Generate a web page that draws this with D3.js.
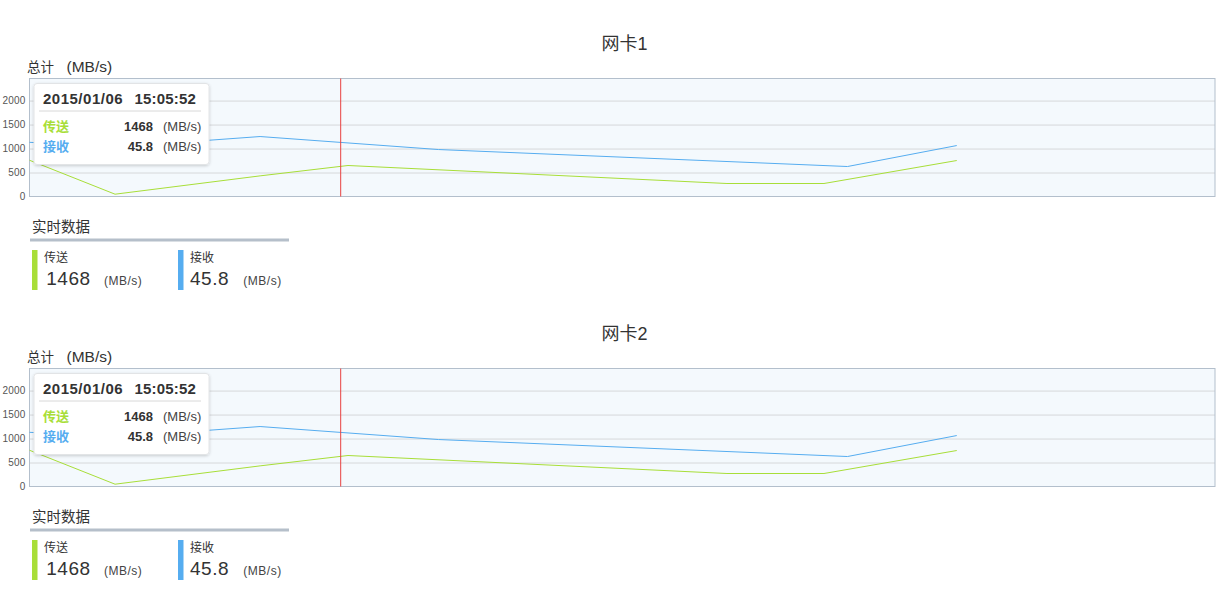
<!DOCTYPE html>
<html>
<head>
<meta charset="utf-8">
<script src="https://cdn.jsdelivr.net/npm/d3@7/dist/d3.min.js"></script>
<style>
  html, body { margin: 0; padding: 0; background: #fff; }
  svg text { font-family: "Liberation Sans", "Noto Sans CJK SC", sans-serif; }
</style>
</head>
<body>
<svg id="chart" width="1218" height="600"></svg>
<script>
// ---- data ----
const panelTitles = ["网卡1", "网卡2"];
const seriesNames = ["传送", "接收"];
const unitLabel = "(MB/s)";
const axisTitleMain = "总计";
const axisTitleUnit = "(MB/s)";
const realtimeTitle = "实时数据";
const yTicks = [0, 500, 1000, 1500, 2000];
const yMax = 2460;
const xMax = 60; // minutes shown on the time axis
const sendTimes = [0, 4.33, 11.67, 16.12, 35.3, 40.21, 46.93];
const sendValues = [756, 48, 430, 646, 271, 271, 750];
const recvTimes = [0, 4.33, 11.67, 20.7, 41.4, 46.93];
const recvValues = [1130, 1030, 1250, 979, 625, 1062];
const cursorTime = 15.75;
const tooltipDate = "2015/01/06";
const tooltipClock = "15:05:52";
const currentValues = ["1468", "45.8"];

const colors = ["#a8de38", "#56adf0"];

const svg = d3.select("#chart");
const defs = svg.append("defs");
const f = defs.append("filter").attr("id", "shadow").attr("x", "-10%").attr("y", "-10%").attr("width", "120%").attr("height", "130%");
f.append("feDropShadow").attr("dx", 0).attr("dy", 1).attr("stdDeviation", 1.5).attr("flood-color", "#000").attr("flood-opacity", 0.18);

const plot = { left: 29.5, right: 1215, top: 78.5, bottom: 196.5 };

function drawPanel(offsetY, title) {
  const g = svg.append("g").attr("transform", `translate(0,${offsetY})`);

  g.append("text").attr("x", 624.5).attr("y", 50).attr("text-anchor", "middle")
    .attr("font-size", 18).attr("fill", "#333").text(title);

  const at = g.append("text").attr("x", 27).attr("y", 72).attr("fill", "#333");
  at.append("tspan").attr("font-size", 13.5).text(axisTitleMain);
  at.append("tspan").attr("x", 66.5).attr("font-size", 15.5).text(axisTitleUnit);

  const x = d3.scaleLinear().domain([0, xMax]).range([plot.left, plot.right]);
  const y = d3.scaleLinear().domain([0, yMax]).range([plot.bottom, plot.top]);

  g.append("rect").attr("x", plot.left).attr("y", plot.top)
    .attr("width", plot.right - plot.left).attr("height", plot.bottom - plot.top)
    .attr("fill", "#f4f9fd").attr("stroke", "none");

  // grid lines
  const yAxis = d3.axisLeft(y).tickValues(yTicks).tickFormat(d3.format("d"))
    .tickSize(-(plot.right - plot.left)).tickPadding(4);
  const ax = g.append("g").attr("transform", `translate(${plot.left},0)`).call(yAxis);
  ax.select(".domain").remove();
  ax.selectAll(".tick line").attr("stroke", d => d === 0 ? "none" : "#d6d8da").attr("stroke-width", 1);
  ax.selectAll(".tick text").attr("font-size", 10).attr("fill", "#555").attr("letter-spacing", 0.2)
    .attr("font-family", "'Liberation Sans', sans-serif");

  g.append("rect").attr("x", plot.left).attr("y", plot.top)
    .attr("width", plot.right - plot.left).attr("height", plot.bottom - plot.top)
    .attr("fill", "none").attr("stroke", "#b3bfcc").attr("stroke-width", 1);

  const line = d3.line().x(d => x(d[0])).y(d => y(d[1]));
  const sendData = sendTimes.map((t, i) => [t, sendValues[i]]);
  const recvData = recvTimes.map((t, i) => [t, recvValues[i]]);
  g.append("path").datum(recvData).attr("d", line).attr("fill", "none").attr("stroke", colors[1]).attr("stroke-width", 1);
  g.append("path").datum(sendData).attr("d", line).attr("fill", "none").attr("stroke", colors[0]).attr("stroke-width", 1);

  g.append("line").attr("x1", x(cursorTime)).attr("x2", x(cursorTime))
    .attr("y1", plot.top).attr("y2", plot.bottom).attr("stroke", "#e8413f").attr("stroke-width", 1);

  // tooltip
  const tt = g.append("g").attr("transform", "translate(34,83.5)");
  tt.append("rect").attr("width", 175).attr("height", 81).attr("rx", 3)
    .attr("fill", "#fff").attr("stroke", "#e2e4e6").attr("filter", "url(#shadow)");
  tt.append("text").attr("x", 9).attr("y", 20.5).attr("font-size", 15).attr("font-weight", "bold")
    .attr("letter-spacing", 0.5).attr("fill", "#333").text(tooltipDate);
  tt.append("text").attr("x", 100.5).attr("y", 20.5).attr("font-size", 15).attr("font-weight", "bold")
    .attr("letter-spacing", 0.2).attr("fill", "#333").text(tooltipClock);
  tt.append("line").attr("x1", 5).attr("x2", 167).attr("y1", 27.5).attr("y2", 27.5).attr("stroke", "#d8d8d8");
  seriesNames.forEach((name, i) => {
    const by = 47.5 + i * 19.5;
    tt.append("text").attr("x", 9).attr("y", by).attr("font-size", 13).attr("font-weight", "bold")
      .attr("fill", colors[i]).text(name);
    tt.append("text").attr("x", 119).attr("y", by).attr("font-size", 13).attr("font-weight", "bold")
      .attr("text-anchor", "end").attr("fill", "#333").text(currentValues[i]);
    tt.append("text").attr("x", 129).attr("y", by).attr("font-size", 13)
      .attr("fill", "#444").text(unitLabel);
  });

  // real-time data section
  g.append("text").attr("x", 32).attr("y", 231.5).attr("font-size", 14.5).attr("fill", "#333").text(realtimeTitle);
  g.append("rect").attr("x", 30).attr("y", 238.5).attr("width", 259).attr("height", 3).attr("fill", "#b5bfca");
  const blockX = [32, 178];
  seriesNames.forEach((name, i) => {
    const bx = blockX[i];
    g.append("rect").attr("x", bx).attr("y", 250).attr("width", 5.5).attr("height", 40).attr("fill", colors[i]);
    g.append("text").attr("x", bx + 12).attr("y", 262).attr("font-size", 12).attr("fill", "#333").text(name);
    g.append("text").attr("x", bx + (i === 0 ? 14.3 : 12)).attr("y", 285).attr("font-size", 19)
      .attr("letter-spacing", 0.5).attr("fill", "#333").text(currentValues[i]);
    g.append("text").attr("x", bx + (i === 0 ? 72 : 65.3)).attr("y", 285).attr("font-size", 12)
      .attr("letter-spacing", 0.5).attr("fill", "#444").text(unitLabel);
  });
}

drawPanel(0, panelTitles[0]);
drawPanel(290, panelTitles[1]);
</script>
</body>
</html>
